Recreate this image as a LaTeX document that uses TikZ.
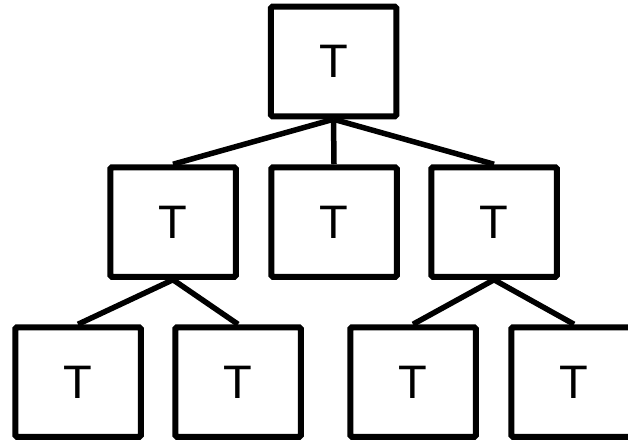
\documentclass[tikz,border=0pt]{standalone}
\usepackage{fontspec}
\setmainfont{Liberation Sans}
\begin{document}
\begin{tikzpicture}[x=1pt,y=-1pt,
  tbox/.style={draw=black, line width=6pt, fill=white, rounded corners=1.5pt,
    minimum width=125.5pt, minimum height=109.5pt, inner sep=0pt,
    font=\fontsize{47}{47}\selectfont},
  link/.style={draw=black, line width=5.5pt}]
  \useasboundingbox (0,0) rectangle (628,441);
  \clip (0,0) rectangle (628,441);
  % tree nodes
  \node[tbox] (root) at (333.5,61.5) {\raisebox{-2pt}{T}};
  \node[tbox] (m1) at (173,222) {\raisebox{-2pt}{T}};
  \node[tbox] (m2) at (334,222) {\raisebox{-2pt}{T}};
  \node[tbox] (m3) at (494,222) {\raisebox{-2pt}{T}};
  \node[tbox] (b1) at (78,382) {\raisebox{-2pt}{T}};
  \node[tbox] (b2) at (238,382) {\raisebox{-2pt}{T}};
  \node[tbox] (b3) at (413,382) {\raisebox{-2pt}{T}};
  \node[tbox] (b4) at (574,382) {\raisebox{-2pt}{T}};
  % connectors
  \draw[link] (root.south) -- (m1.north);
  \draw[link] (root.south) -- (m2.north);
  \draw[link] (root.south) -- (m3.north);
  \draw[link] (m1.south) -- (b1.north);
  \draw[link] (m1.south) -- (b2.north);
  \draw[link] (m3.south) -- (b3.north);
  \draw[link] (m3.south) -- (b4.north);
\end{tikzpicture}
\end{document}
